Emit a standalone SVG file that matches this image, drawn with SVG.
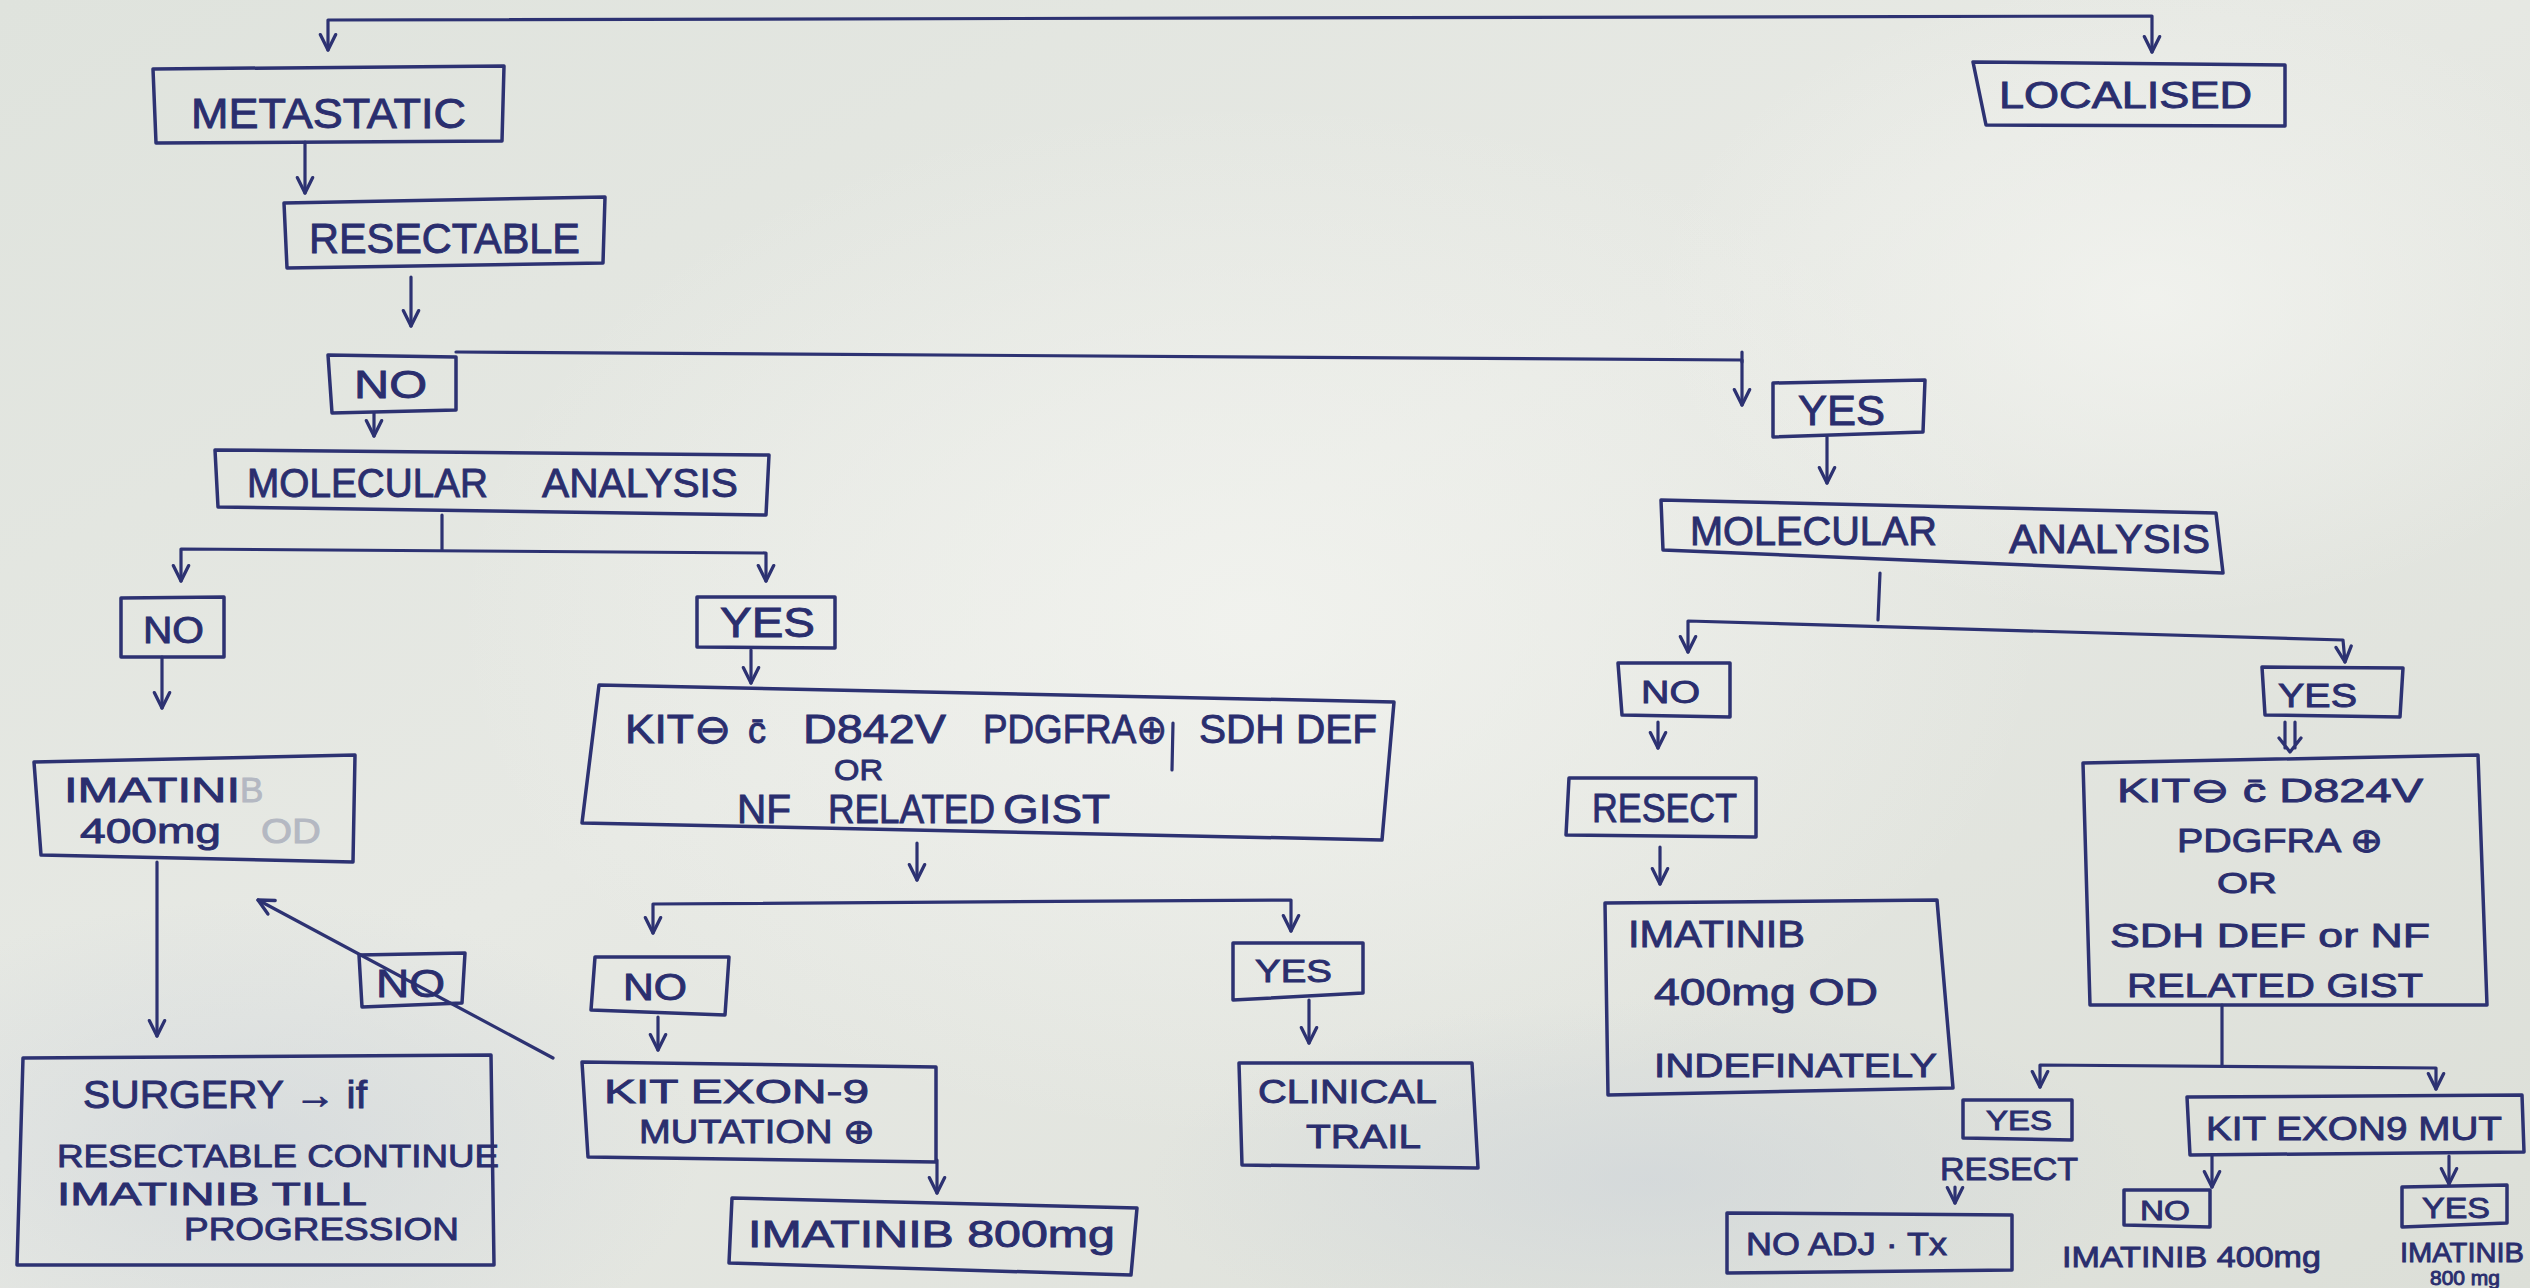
<svg xmlns="http://www.w3.org/2000/svg" width="2530" height="1288" viewBox="0 0 2530 1288">
<defs>
<style>
.box{fill:none;stroke:#2d3272;stroke-width:3.5;stroke-linejoin:round}
.ln{fill:none;stroke:#2d3272;stroke-width:3.2;stroke-linecap:round;stroke-linejoin:round}
.arr{fill:none;stroke:#2d3272;stroke-width:3.2;stroke-linecap:round;stroke-linejoin:round;marker-end:url(#ah)}
.arr2{fill:none;stroke:#2d3272;stroke-width:3.2;stroke-linecap:round;stroke-linejoin:round;marker-start:url(#ah);marker-end:url(#ah)}
text{font-family:"Liberation Sans","DejaVu Sans",sans-serif;fill:#2a2e6e;stroke:#2a2e6e;stroke-width:0.9}
.faded{fill:#b4b8c2;stroke:#b4b8c2}
</style>
<linearGradient id="paper" x1="0" y1="0" x2="1" y2="1">
<stop offset="0" stop-color="#dfe3dd"/>
<stop offset="0.45" stop-color="#e7e9e4"/>
<stop offset="1" stop-color="#dcdfd8"/>
</linearGradient>
<radialGradient id="glow" cx="0.5" cy="0.5" r="0.5">
<stop offset="0" stop-color="#f3f4f0" stop-opacity="0.8"/>
<stop offset="1" stop-color="#f3f4f0" stop-opacity="0"/>
</radialGradient>
<radialGradient id="shade" cx="0.5" cy="0.5" r="0.5">
<stop offset="0" stop-color="#cdd3d9" stop-opacity="0.6"/>
<stop offset="1" stop-color="#cdd3d9" stop-opacity="0"/>
</radialGradient>
<marker id="ah" viewBox="0 0 20 20" refX="17" refY="10" markerWidth="22" markerHeight="22" markerUnits="userSpaceOnUse" orient="auto-start-reverse">
<path d="M3,3 L17,10 L3,17" fill="none" stroke="#2d3272" stroke-width="3" stroke-linecap="round" stroke-linejoin="round"/>
</marker>
</defs>

<!-- paper -->
<rect width="2530" height="1288" fill="url(#paper)"/>
<ellipse cx="1250" cy="620" rx="800" ry="520" fill="url(#glow)"/>
<ellipse cx="2150" cy="300" rx="500" ry="320" fill="url(#glow)"/>
<ellipse cx="250" cy="1150" rx="450" ry="250" fill="url(#shade)"/>
<ellipse cx="1650" cy="1180" rx="500" ry="180" fill="url(#shade)"/>

<!-- connectors -->
<g id="connectors">
<path class="arr2" d="M328,50 L328,20 L2152,16 L2152,52"/>
<path class="arr" d="M305,142 L305,193"/>
<path class="arr" d="M411,277 L411,326"/>
<path class="arr" d="M456,352 L1742,360 L1742,405"/>
<path class="ln" d="M1742,352 L1742,362"/>
<path class="arr" d="M374,413 L374,436"/>
<path class="ln" d="M442,515 L442,550"/>
<path class="arr2" d="M181,581 L181,549 L766,553 L766,581"/>
<path class="arr" d="M162,657 L162,708"/>
<path class="arr" d="M157,862 L157,1036"/>
<path class="arr" d="M553,1058 L258,900"/>
<path class="arr" d="M751,650 L751,683"/>
<path class="arr" d="M917,843 L917,880"/>
<path class="arr2" d="M653,933 L653,904 L1291,900 L1291,931"/>
<path class="arr" d="M658,1017 L658,1050"/>
<path class="arr" d="M937,1160 L937,1193"/>
<path class="arr" d="M1309,1000 L1309,1043"/>
<path class="arr" d="M1827,437 L1827,483"/>
<path class="ln" d="M1880,573 L1878,620"/>
<path class="arr2" d="M1688,652 L1688,621 L2343,640 L2345,662"/>
<path class="arr" d="M1658,722 L1658,748"/>
<path class="arr" d="M1660,847 L1660,884"/>
<path class="ln" d="M2285,722 L2285,748 M2295,722 L2295,748 M2279,738 L2290,752 L2301,738"/>
<path class="ln" d="M2222,1005 L2222,1066"/>
<path class="arr2" d="M2040,1087 L2040,1065 L2436,1068 L2436,1089"/>
<path class="arr" d="M1955,1187 L1955,1203"/>
<path class="arr" d="M2212,1155 L2212,1187"/>
<path class="arr" d="M2449,1156 L2449,1184"/>
</g>

<!-- metastatic branch -->
<g id="n-metastatic">
<polygon class="box" points="153,69 504,66 502,141 156,143"/>
<text x="191" y="128" font-size="42" textLength="275" lengthAdjust="spacingAndGlyphs">METASTATIC</text>
</g>
<g id="n-localised">
<polygon class="box" points="1973,62 2285,65 2285,126 1986,125"/>
<text x="1999" y="108" font-size="36" textLength="253" lengthAdjust="spacingAndGlyphs">LOCALISED</text>
</g>
<g id="n-resectable">
<polygon class="box" points="284,203 605,197 603,263 287,268"/>
<text x="309" y="253" font-size="42" textLength="271" lengthAdjust="spacingAndGlyphs">RESECTABLE</text>
</g>
<g id="n-no-resectable">
<polygon class="box" points="328,355 456,357 456,410 332,413"/>
<text x="354" y="398" font-size="39" textLength="73" lengthAdjust="spacingAndGlyphs">NO</text>
</g>
<g id="n-yes-resectable">
<polygon class="box" points="1773,383 1925,380 1923,432 1773,437"/>
<text x="1798" y="425" font-size="42" textLength="87" lengthAdjust="spacingAndGlyphs">YES</text>
</g>
<g id="n-molecular-left">
<polygon class="box" points="215,450 769,455 766,515 218,507"/>
<text x="247" y="497" font-size="40" textLength="241" lengthAdjust="spacingAndGlyphs">MOLECULAR</text>
<text x="542" y="497" font-size="40" textLength="196" lengthAdjust="spacingAndGlyphs">ANALYSIS</text>
</g>
<g id="n-no-molecular-left">
<polygon class="box" points="121,598 224,597 224,657 121,657"/>
<text x="143" y="643" font-size="36" textLength="61" lengthAdjust="spacingAndGlyphs">NO</text>
</g>
<g id="n-yes-molecular-left">
<polygon class="box" points="697,597 835,597 835,648 697,647"/>
<text x="720" y="637" font-size="42" textLength="95" lengthAdjust="spacingAndGlyphs">YES</text>
</g>
<g id="n-imatinib-400-left">
<polygon class="box" points="34,762 355,755 353,862 41,855"/>
<text x="64" y="802" font-size="35" textLength="176" lengthAdjust="spacingAndGlyphs">IMATINI</text>
<text class="faded" x="240" y="802" font-size="35">B</text>
<text x="80" y="843" font-size="35" textLength="141" lengthAdjust="spacingAndGlyphs">400mg</text>
<text class="faded" x="261" y="843" font-size="35" textLength="60" lengthAdjust="spacingAndGlyphs">OD</text>
</g>
<g id="n-kit-left">
<polygon class="box" points="599,685 1394,702 1382,840 582,823"/>
<text x="625" y="743" font-size="40" textLength="106" lengthAdjust="spacingAndGlyphs">KIT⊖</text>
<text x="748" y="743" font-size="36">c̄</text>
<text x="803" y="743" font-size="40" textLength="143" lengthAdjust="spacingAndGlyphs">D842V</text>
<text x="983" y="743" font-size="40" textLength="184" lengthAdjust="spacingAndGlyphs">PDGFRA⊕</text>
<path class="ln" d="M1173,723 L1172,770"/>
<text x="1199" y="743" font-size="40" textLength="178" lengthAdjust="spacingAndGlyphs">SDH DEF</text>
<text x="834" y="780" font-size="30" textLength="49" lengthAdjust="spacingAndGlyphs">OR</text>
<text x="737" y="823" font-size="40" textLength="54" lengthAdjust="spacingAndGlyphs">NF</text>
<text x="828" y="823" font-size="40" textLength="167" lengthAdjust="spacingAndGlyphs">RELATED</text>
<text x="1003" y="823" font-size="40" textLength="107" lengthAdjust="spacingAndGlyphs">GIST</text>
</g>
<g id="n-no-kit-left">
<polygon class="box" points="595,957 729,957 725,1015 591,1010"/>
<text x="623" y="1000" font-size="36" textLength="64" lengthAdjust="spacingAndGlyphs">NO</text>
</g>
<g id="n-kit-exon9-left">
<polygon class="box" points="582,1062 936,1067 936,1162 588,1157"/>
<text x="604" y="1103" font-size="34" textLength="265" lengthAdjust="spacingAndGlyphs">KIT EXON-9</text>
<text x="639" y="1143" font-size="34" textLength="236" lengthAdjust="spacingAndGlyphs">MUTATION ⊕</text>
</g>
<g id="n-imatinib-800">
<polygon class="box" points="732,1198 1137,1208 1131,1275 729,1263"/>
<text x="748" y="1247" font-size="36" textLength="367" lengthAdjust="spacingAndGlyphs">IMATINIB 800mg</text>
</g>
<g id="n-yes-kit-left">
<polygon class="box" points="1233,943 1363,943 1363,993 1233,1000"/>
<text x="1255" y="982" font-size="32" textLength="77" lengthAdjust="spacingAndGlyphs">YES</text>
</g>
<g id="n-clinical-trail">
<polygon class="box" points="1239,1063 1472,1063 1478,1168 1242,1165"/>
<text x="1258" y="1103" font-size="34" textLength="179" lengthAdjust="spacingAndGlyphs">CLINICAL</text>
<text x="1306" y="1148" font-size="34" textLength="115" lengthAdjust="spacingAndGlyphs">TRAIL</text>
</g>
<g id="n-surgery">
<polygon class="box" points="23,1058 491,1055 494,1265 17,1265"/>
<text x="83" y="1108" font-size="38" textLength="284" lengthAdjust="spacingAndGlyphs">SURGERY → if</text>
<text x="57" y="1167" font-size="32" textLength="442" lengthAdjust="spacingAndGlyphs">RESECTABLE CONTINUE</text>
<text x="57" y="1205" font-size="32" textLength="310" lengthAdjust="spacingAndGlyphs">IMATINIB  TILL</text>
<text x="184" y="1240" font-size="32" textLength="275" lengthAdjust="spacingAndGlyphs">PROGRESSION</text>
</g>
<g id="n-no-loop">
<polygon class="box" points="359,955 465,953 462,1003 362,1007"/>
<text x="376" y="997" font-size="38" textLength="69" lengthAdjust="spacingAndGlyphs">NO</text>
</g>

<!-- resectable / localised branch -->
<g id="n-molecular-right">
<polygon class="box" points="1661,500 2216,513 2223,573 1663,550"/>
<text x="1690" y="545" font-size="40" textLength="247" lengthAdjust="spacingAndGlyphs">MOLECULAR</text>
<text x="2009" y="553" font-size="40" textLength="201" lengthAdjust="spacingAndGlyphs">ANALYSIS</text>
</g>
<g id="n-no-molecular-right">
<polygon class="box" points="1618,663 1730,663 1730,717 1622,715"/>
<text x="1641" y="703" font-size="32" textLength="59" lengthAdjust="spacingAndGlyphs">NO</text>
</g>
<g id="n-resect">
<polygon class="box" points="1569,778 1756,778 1756,837 1566,835"/>
<text x="1592" y="822" font-size="40" textLength="145" lengthAdjust="spacingAndGlyphs">RESECT</text>
</g>
<g id="n-imatinib-indefinately">
<polygon class="box" points="1605,903 1937,900 1953,1088 1608,1095"/>
<text x="1628" y="947" font-size="36" textLength="177" lengthAdjust="spacingAndGlyphs">IMATINIB</text>
<text x="1654" y="1005" font-size="36" textLength="224" lengthAdjust="spacingAndGlyphs">400mg OD</text>
<text x="1654" y="1077" font-size="34" textLength="283" lengthAdjust="spacingAndGlyphs">INDEFINATELY</text>
</g>
<g id="n-yes-molecular-right">
<polygon class="box" points="2262,667 2403,668 2400,717 2265,715"/>
<text x="2278" y="707" font-size="34" textLength="79" lengthAdjust="spacingAndGlyphs">YES</text>
</g>
<g id="n-kit-right">
<polygon class="box" points="2083,763 2478,755 2487,1005 2090,1005"/>
<text x="2117" y="802" font-size="34" textLength="306" lengthAdjust="spacingAndGlyphs">KIT⊖ c̄  D824V</text>
<text x="2177" y="852" font-size="34" textLength="206" lengthAdjust="spacingAndGlyphs">PDGFRA ⊕</text>
<text x="2217" y="893" font-size="30" textLength="60" lengthAdjust="spacingAndGlyphs">OR</text>
<text x="2110" y="947" font-size="34" textLength="320" lengthAdjust="spacingAndGlyphs">SDH DEF or NF</text>
<text x="2127" y="997" font-size="34" textLength="296" lengthAdjust="spacingAndGlyphs">RELATED  GIST</text>
</g>
<g id="n-yes-kit-right">
<polygon class="box" points="1963,1100 2072,1100 2072,1140 1963,1138"/>
<text x="1986" y="1130" font-size="28" textLength="66" lengthAdjust="spacingAndGlyphs">YES</text>
</g>
<g id="n-resect-label">
<text x="1940" y="1180" font-size="32" textLength="138" lengthAdjust="spacingAndGlyphs">RESECT</text>
</g>
<g id="n-no-adj">
<polygon class="box" points="1727,1213 2012,1215 2012,1270 1727,1273"/>
<text x="1746" y="1255" font-size="32" textLength="201" lengthAdjust="spacingAndGlyphs">NO ADJ · Tx</text>
</g>
<g id="n-kit-exon9-mut">
<polygon class="box" points="2187,1097 2522,1095 2524,1152 2190,1155"/>
<text x="2206" y="1140" font-size="34" textLength="296" lengthAdjust="spacingAndGlyphs">KIT EXON9 MUT</text>
</g>
<g id="n-no-exon9">
<polygon class="box" points="2124,1190 2210,1190 2210,1227 2124,1225"/>
<text x="2140" y="1220" font-size="28" textLength="50" lengthAdjust="spacingAndGlyphs">NO</text>
<text x="2062" y="1267" font-size="30" textLength="259" lengthAdjust="spacingAndGlyphs">IMATINIB 400mg</text>
</g>
<g id="n-yes-exon9">
<polygon class="box" points="2402,1187 2507,1185 2507,1223 2402,1227"/>
<text x="2422" y="1218" font-size="30" textLength="68" lengthAdjust="spacingAndGlyphs">YES</text>
<text x="2400" y="1262" font-size="28" textLength="124" lengthAdjust="spacingAndGlyphs">IMATINIB</text>
<text x="2430" y="1285" font-size="20" textLength="70" lengthAdjust="spacingAndGlyphs">800 mg</text>
</g>
</svg>
